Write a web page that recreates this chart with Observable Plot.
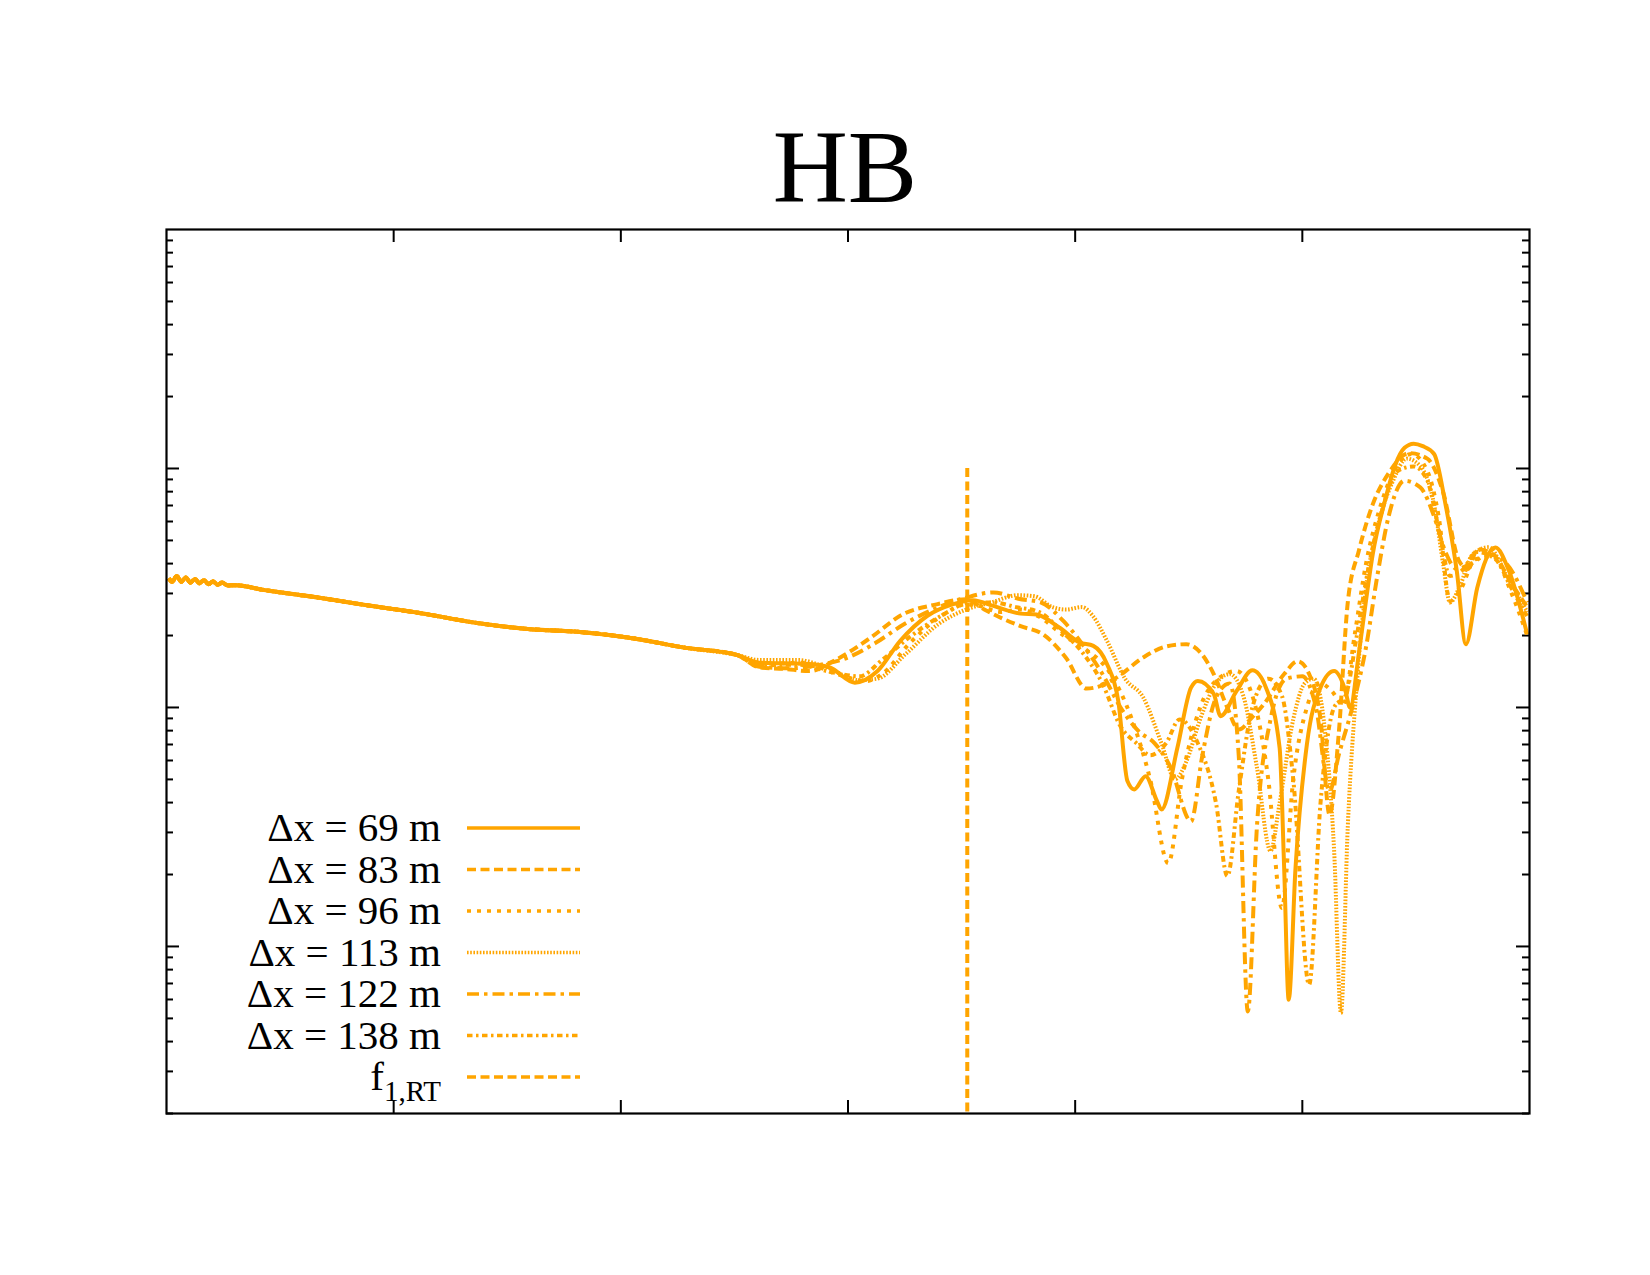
<!DOCTYPE html>
<html>
<head>
<meta charset="utf-8">
<script src="https://cdn.jsdelivr.net/npm/d3@7"></script>
<script src="https://cdn.jsdelivr.net/npm/@observablehq/plot@0.6"></script>
<style>
  html, body { margin: 0; padding: 0; background: #fff; }
  #wrap { position: relative; width: 1650px; height: 1275px; overflow: hidden; }
  #chart { position: absolute; left: 0; top: 0; }
  #overlay { position: absolute; left: 0; top: 0; pointer-events: none; }
</style>
</head>
<body>
<div id="wrap">
  <div id="chart"></div>
  <svg id="overlay" width="1650" height="1275"></svg>
</div>
<script>
// ---------------- data ----------------
const title = "HB";
const labels = ["Δx = 69 m", "Δx = 83 m", "Δx = 96 m", "Δx = 113 m", "Δx = 122 m", "Δx = 138 m"];
const f1RT = 3.525;            // position of the f_{1,RT} marker
const f1RTTop = 0.1;           // top of the marker line

// shared low-x part (all resolutions coincide there)
const commonX = [0.01,0.025,0.045,0.065,0.085,0.105,0.125,0.145,0.165,0.185,0.205,0.225,0.245,0.27,0.30,0.43,0.66,0.89,1.12,1.35,1.59,1.82,2.05,2.28,2.51];
const commonY = [0.0347,0.0336,0.0355,0.0336,0.0350,0.0333,0.0345,0.0331,0.0341,0.0328,0.0337,0.0326,0.0333,0.0324,0.0325,0.0310,0.0289,0.0267,0.0248,0.0227,0.0213,0.0207,0.0195,0.0178,0.0166];

const x69 = [2.61,2.72,2.83,2.92,3.03,3.13,3.23,3.35,3.46,3.55,3.64,3.76,3.83,3.93,4.02,4.08,4.14,4.19,4.23,4.26,4.31,4.36,4.38,4.45,4.51,4.54,4.61,4.64,4.71,4.78,4.84,4.90,4.92,4.94,4.97,5.02,5.08,5.14,5.19,5.21,5.25,5.28,5.31,5.36,5.41,5.45,5.49,5.53,5.58,5.63,5.68,5.72,5.77,5.85,5.91,5.99];
const y69 = [0.0154,0.0153,0.0152,0.0147,0.0127,0.0142,0.0190,0.0242,0.0270,0.0281,0.0266,0.0247,0.0245,0.0216,0.0187,0.0181,0.0152,0.0106,0.00492,0.00454,0.00516,0.00406,0.00374,0.00678,0.0121,0.0129,0.0114,0.00920,0.0117,0.0143,0.0121,0.00678,0.00213,0.000598,0.00213,0.00700,0.0121,0.0142,0.0117,0.00998,0.0172,0.0279,0.0438,0.0710,0.104,0.122,0.127,0.124,0.115,0.0710,0.0372,0.0184,0.0317,0.0467,0.0372,0.0202];

const x83 = [2.61,2.72,2.83,2.95,3.10,3.24,3.39,3.52,3.60,3.67,3.76,3.86,3.96,4.05,4.10,4.18,4.30,4.40,4.49,4.56,4.61,4.67,4.72,4.78,4.83,4.92,4.98,5.03,5.08,5.12,5.16,5.20,5.25,5.31,5.38,5.47,5.55,5.62,5.69,5.73,5.77,5.84,5.92,5.99];
const y83 = [0.0147,0.0145,0.0142,0.0159,0.0196,0.0245,0.0270,0.0284,0.0257,0.0238,0.0219,0.0202,0.0161,0.0120,0.0122,0.0133,0.0162,0.0180,0.0184,0.0166,0.0138,0.00998,0.00809,0.00912,0.0103,0.0138,0.0156,0.0138,0.00891,0.00356,0.00771,0.0275,0.0457,0.0708,0.0955,0.116,0.110,0.0794,0.0410,0.0380,0.0459,0.0437,0.0331,0.0263];

const x96 = [2.61,2.80,2.95,3.08,3.15,3.27,3.42,3.52,3.58,3.67,3.76,3.84,3.95,4.05,4.15,4.25,4.33,4.41,4.47,4.55,4.63,4.71,4.78,4.85,4.91,4.96,5.02,5.08,5.13,5.18,5.23,5.28,5.34,5.41,5.48,5.55,5.60,5.65,5.70,5.76,5.84,5.92,5.99];
const y96 = [0.0151,0.0154,0.0138,0.0129,0.0138,0.0185,0.0245,0.0270,0.0266,0.0251,0.0257,0.0240,0.0200,0.0174,0.0141,0.00891,0.00501,0.00223,0.00501,0.0100,0.0132,0.0142,0.0112,0.00501,0.00145,0.00501,0.0100,0.0126,0.0117,0.0102,0.0200,0.0398,0.0676,0.100,0.115,0.0977,0.0631,0.0279,0.0316,0.0417,0.0427,0.0302,0.0200];

const x113 = [2.61,2.78,2.90,3.05,3.13,3.25,3.40,3.52,3.63,3.75,3.82,3.90,3.96,4.03,4.08,4.14,4.22,4.30,4.38,4.44,4.49,4.55,4.62,4.68,4.74,4.80,4.86,4.90,4.96,5.01,5.05,5.10,5.14,5.17,5.20,5.24,5.28,5.33,5.40,5.46,5.52,5.58,5.62,5.65,5.69,5.75,5.82,5.90,5.99];
const y113 = [0.0158,0.0158,0.0148,0.0130,0.0132,0.0166,0.0224,0.0257,0.0275,0.0295,0.0292,0.0263,0.0257,0.0263,0.0240,0.0190,0.0132,0.0110,0.00708,0.00501,0.00596,0.00891,0.0126,0.0138,0.0112,0.00562,0.00251,0.00398,0.00891,0.0126,0.0132,0.00794,0.00251,0.000526,0.00316,0.0126,0.0316,0.0562,0.0891,0.110,0.102,0.0708,0.0398,0.0275,0.0316,0.0437,0.0468,0.0355,0.0251];

const x122 = [2.61,2.75,2.88,3.00,3.12,3.25,3.40,3.52,3.64,3.75,3.85,3.95,4.05,4.12,4.20,4.28,4.35,4.42,4.51,4.56,4.62,4.68,4.72,4.76,4.80,4.86,4.93,5.00,5.06,5.12,5.16,5.22,5.28,5.33,5.38,5.45,5.52,5.58,5.63,5.68,5.74,5.82,5.90,5.99];
const y122 = [0.0148,0.0146,0.0151,0.0162,0.0186,0.0224,0.0263,0.0288,0.0303,0.0285,0.0275,0.0229,0.0174,0.0138,0.0100,0.00794,0.00708,0.00562,0.00334,0.00631,0.0110,0.0126,0.00631,0.000535,0.00316,0.00891,0.0132,0.0135,0.0100,0.00447,0.00631,0.0100,0.0178,0.0355,0.0631,0.0889,0.0832,0.0631,0.0447,0.0380,0.0398,0.0437,0.0398,0.0275];

const x138 = [2.61,2.78,2.92,3.05,3.15,3.28,3.42,3.54,3.64,3.74,3.84,3.94,4.04,4.12,4.20,4.27,4.33,4.40,4.46,4.54,4.62,4.67,4.72,4.78,4.85,4.91,4.96,5.03,5.08,5.14,5.19,5.24,5.29,5.35,5.42,5.49,5.55,5.60,5.65,5.70,5.77,5.85,5.92,5.99];
const y138 = [0.0150,0.0151,0.0141,0.0135,0.0158,0.0200,0.0245,0.0275,0.0275,0.0263,0.0251,0.0209,0.0166,0.0126,0.00832,0.00708,0.00631,0.00708,0.00891,0.00708,0.00398,0.00197,0.00447,0.0100,0.0132,0.0112,0.00501,0.000692,0.00398,0.0100,0.0112,0.0200,0.0380,0.0661,0.0977,0.102,0.0891,0.0562,0.0355,0.0372,0.0447,0.0417,0.0316,0.0240];

const xTicks = [1, 2, 3, 4, 5];
const yMajorTicks = [1e-3, 1e-2, 1e-1];

// ---------------- styles ----------------
const ORANGE = "#ffa500";
const dashes = [null, "9,4.5", "4,6", "1.6,1.6", "12,5,3.5,5", "5.5,3.5,2.5,3.5"];
const f1Dash = "9,4.5";

const seriesX = [x69, x83, x96, x113, x122, x138];
const seriesY = [y69, y83, y96, y113, y122, y138];

function build(i) {
  const xs = commonX.concat(seriesX[i]);
  const ys = commonY.concat(seriesY[i]);
  return xs.map((x, k) => ({x, y: ys[k]}));
}

const W = 1650, Hh = 1275;
const mL = 166, mR = 121, mT = 229, mB = 162;
const PW = W - mL - mR, PH = Hh - mT - mB;
const major = 13, minor = 7;

const yMinorTicks = [];
for (const d of [1e-4, 1e-3, 1e-2, 1e-1]) for (let k = 2; k <= 9; k++) {
  const v = +(k * d).toPrecision(3);
  if (v >= 2e-4 && v < 1) yMinorTicks.push(v);
}

const marks = [];
// ticks (inside, mirrored)
marks.push(Plot.ruleX(xTicks, {x: d => d, insetTop: PH - major, stroke: "black", strokeWidth: 2}));
marks.push(Plot.ruleX(xTicks, {x: d => d, insetBottom: PH - major, stroke: "black", strokeWidth: 2}));
marks.push(Plot.ruleY(yMajorTicks, {y: d => d, insetRight: PW - major, stroke: "black", strokeWidth: 2}));
marks.push(Plot.ruleY(yMajorTicks, {y: d => d, insetLeft: PW - major, stroke: "black", strokeWidth: 2}));
marks.push(Plot.ruleY(yMinorTicks, {y: d => d, insetRight: PW - minor, stroke: "black", strokeWidth: 2}));
marks.push(Plot.ruleY(yMinorTicks, {y: d => d, insetLeft: PW - minor, stroke: "black", strokeWidth: 2}));

for (let i = 0; i < 6; i++) {
  marks.push(Plot.line(build(i), {
    x: "x", y: "y", stroke: ORANGE, strokeWidth: 4,
    strokeDasharray: dashes[i] ?? undefined, curve: "monotone-x",
    strokeLinejoin: "round", strokeLinecap: "butt"
  }));
}
marks.push(Plot.ruleX([f1RT], {x: d => d, y1: f1RTTop, y2: 2e-4, stroke: ORANGE, strokeWidth: 4, strokeDasharray: f1Dash}));
marks.push(Plot.frame({stroke: "black", strokeWidth: 2.2}));

const chart = Plot.plot({
  width: W, height: Hh,
  marginLeft: mL, marginRight: mR, marginTop: mT, marginBottom: mB,
  x: {domain: [0, 6], axis: null},
  y: {type: "log", domain: [2e-4, 1], axis: null},
  style: {background: "white", overflow: "visible"},
  marks
});
document.getElementById("chart").appendChild(chart);

// ---------------- overlay: title + legend ----------------
const ov = d3.select("#overlay");
ov.append("text").attr("x", 845).attr("y", 202).attr("text-anchor", "middle")
  .attr("font-family", "'Liberation Serif', 'DejaVu Serif', serif").attr("font-size", 104).attr("fill", "black")
  .text(title);

const legTextX = 441, legLineX1 = 467, legLineX2 = 580, legY0 = 828, legStep = 41.5;
const allDash = dashes.concat([f1Dash]);
for (let i = 0; i < 7; i++) {
  const y = legY0 + i * legStep;
  const t = ov.append("text").attr("x", legTextX).attr("y", y + 13).attr("text-anchor", "end")
    .attr("font-family", "'Liberation Serif', 'DejaVu Serif', serif").attr("font-size", 41).attr("fill", "black");
  if (i < 6) t.text(labels[i]);
  else {
    t.append("tspan").text("f");
    t.append("tspan").attr("font-size", 29).attr("dy", 11).text("1,RT");
  }
  const ln = ov.append("line").attr("x1", legLineX1).attr("x2", legLineX2).attr("y1", y).attr("y2", y)
    .attr("stroke", ORANGE).attr("stroke-width", 3.6);
  if (allDash[i]) ln.attr("stroke-dasharray", allDash[i]);
}
</script>
</body>
</html>
